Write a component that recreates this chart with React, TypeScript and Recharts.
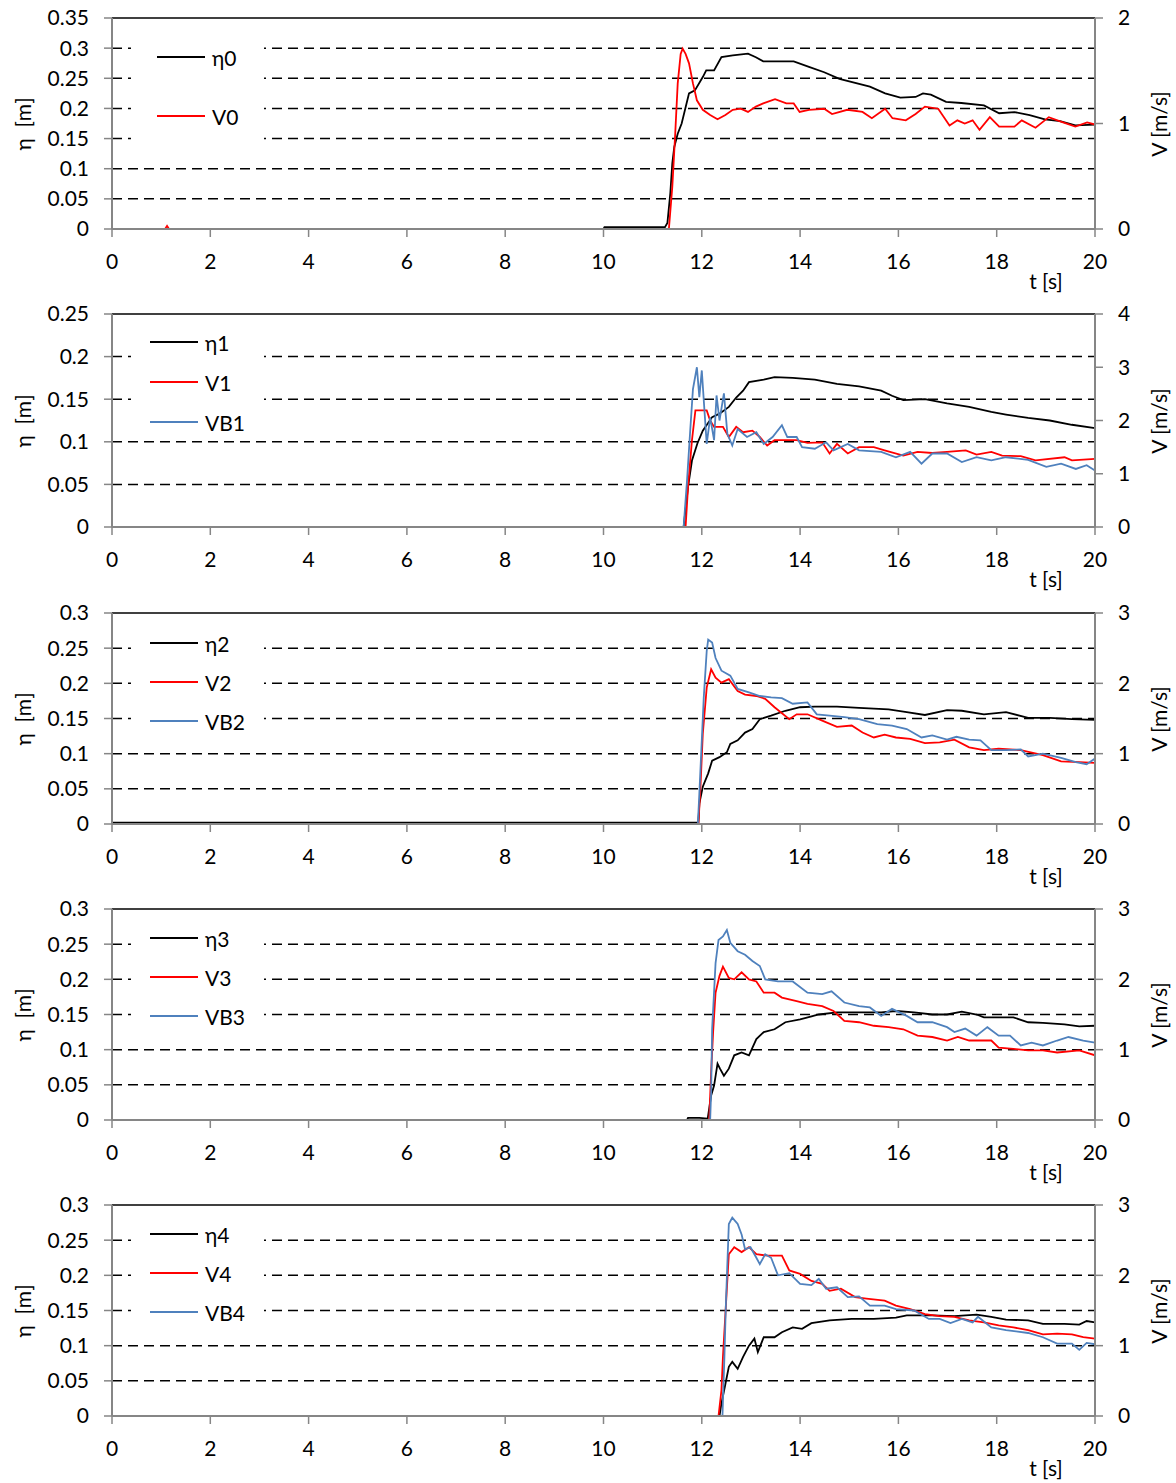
import React from 'react';
import { LineChart, Line, XAxis, YAxis, CartesianGrid, ReferenceLine, Legend } from 'recharts';

// ---------- data ----------
const T_TICKS = [0, 2, 4, 6, 8, 10, 12, 14, 16, 18, 20];
const ETA_TICKS_035 = [0, 0.05, 0.1, 0.15, 0.2, 0.25, 0.3, 0.35];
const ETA_TICKS_025 = [0, 0.05, 0.1, 0.15, 0.2, 0.25];
const ETA_TICKS_03 = [0, 0.05, 0.1, 0.15, 0.2, 0.25, 0.3];
const V_TICKS_2 = [0, 1, 2];
const V_TICKS_4 = [0, 1, 2, 3, 4];
const V_TICKS_3 = [0, 1, 2, 3];

const NAMES_0 = ['η0', 'V0'];
const NAMES_1 = ['η1', 'V1', 'VB1'];
const NAMES_2 = ['η2', 'V2', 'VB2'];
const NAMES_3 = ['η3', 'V3', 'VB3'];
const NAMES_4 = ['η4', 'V4', 'VB4'];

// [t (s), value]
const ETA0: [number, number][] = [[0,0],[10,0],[10.02,0.003],[11.25,0.003],[11.3,0.01],[11.36,0.06],[11.40,0.109],[11.44,0.136],[11.51,0.158],[11.59,0.175],[11.74,0.225],[11.86,0.230],[12.02,0.252],[12.09,0.263],[12.25,0.263],[12.40,0.285],[12.63,0.288],[12.94,0.291],[13.10,0.285],[13.25,0.278],[13.87,0.278],[14.18,0.269],[14.49,0.260],[14.80,0.249],[15.42,0.236],[15.73,0.225],[16.04,0.218],[16.35,0.219],[16.50,0.225],[16.66,0.223],[16.97,0.211],[17.28,0.209],[17.74,0.205],[18.05,0.192],[18.36,0.194],[18.67,0.189],[18.98,0.182],[19.29,0.179],[19.60,0.172],[20,0.173]];
const V0: [number, number][] = [[0,0],[1.08,0],[1.12,0.03],[1.16,0],[11.33,0],[11.40,0.40],[11.46,0.91],[11.51,1.38],[11.57,1.66],[11.61,1.71],[11.67,1.66],[11.74,1.57],[11.82,1.38],[11.90,1.22],[12.02,1.13],[12.17,1.08],[12.32,1.04],[12.48,1.08],[12.63,1.13],[12.79,1.14],[12.94,1.11],[13.10,1.16],[13.25,1.19],[13.49,1.23],[13.72,1.19],[13.87,1.19],[13.99,1.11],[14.18,1.13],[14.49,1.14],[14.65,1.09],[14.96,1.13],[15.27,1.11],[15.46,1.05],[15.73,1.14],[15.88,1.05],[16.15,1.03],[16.35,1.09],[16.54,1.16],[16.81,1.14],[17.04,0.98],[17.20,1.03],[17.35,1.00],[17.51,1.03],[17.65,0.94],[17.86,1.06],[18.05,0.97],[18.36,0.97],[18.51,1.03],[18.79,0.96],[19.06,1.06],[19.29,1.02],[19.60,0.97],[19.84,1.01],[20,0.99]];

const ETA1: [number, number][] = [[0,0],[11.63,0],[11.72,0.047],[11.80,0.078],[11.91,0.098],[12.02,0.113],[12.21,0.129],[12.36,0.133],[12.55,0.141],[12.70,0.152],[12.84,0.160],[12.96,0.170],[13.26,0.173],[13.48,0.176],[13.85,0.175],[14.30,0.173],[14.75,0.168],[15.20,0.165],[15.65,0.160],[15.87,0.154],[16.10,0.149],[16.54,0.150],[16.99,0.145],[17.44,0.141],[17.89,0.135],[18.19,0.132],[18.64,0.128],[19.08,0.125],[19.53,0.120],[20,0.116]];
const V1: [number, number][] = [[0,0],[11.67,0],[11.72,0.75],[11.80,1.63],[11.87,2.19],[12.10,2.19],[12.17,2.0],[12.25,1.88],[12.43,1.88],[12.55,1.69],[12.70,1.88],[12.84,1.78],[13.03,1.81],[13.18,1.69],[13.33,1.53],[13.48,1.63],[13.93,1.63],[14.15,1.58],[14.45,1.59],[14.60,1.38],[14.75,1.56],[14.97,1.38],[15.20,1.50],[15.50,1.50],[15.72,1.44],[16.10,1.34],[16.39,1.41],[16.69,1.39],[16.99,1.41],[17.37,1.44],[17.59,1.36],[17.89,1.41],[18.11,1.34],[18.49,1.33],[18.79,1.25],[19.38,1.31],[19.53,1.25],[20,1.28]];
const VB1: [number, number][] = [[0,0],[11.63,0],[11.70,0.88],[11.76,1.75],[11.82,2.59],[11.90,3.0],[11.95,2.44],[12.0,2.94],[12.04,2.38],[12.10,1.56],[12.17,2.06],[12.25,1.63],[12.30,2.47],[12.36,2.0],[12.45,2.51],[12.52,1.75],[12.62,1.53],[12.73,1.84],[12.92,1.69],[13.11,1.78],[13.26,1.56],[13.44,1.69],[13.63,1.91],[13.74,1.69],[13.93,1.69],[14.04,1.5],[14.30,1.47],[14.53,1.59],[14.68,1.44],[14.97,1.56],[15.20,1.44],[15.65,1.41],[15.95,1.31],[16.24,1.41],[16.47,1.19],[16.69,1.38],[16.99,1.38],[17.29,1.22],[17.59,1.31],[17.89,1.25],[18.19,1.31],[18.64,1.26],[19.01,1.13],[19.31,1.19],[19.61,1.09],[19.83,1.16],[20,1.06]];

const ETA2: [number, number][] = [[0,0.002],[11.93,0.002],[11.95,0.029],[12.02,0.053],[12.13,0.072],[12.21,0.090],[12.36,0.095],[12.51,0.102],[12.58,0.114],[12.73,0.119],[12.88,0.130],[13.03,0.135],[13.18,0.149],[13.41,0.154],[13.70,0.161],[14.0,0.166],[14.30,0.167],[14.75,0.167],[15.20,0.165],[15.80,0.163],[16.17,0.159],[16.54,0.155],[16.99,0.162],[17.29,0.161],[17.74,0.156],[18.19,0.159],[18.64,0.151],[19.08,0.151],[19.53,0.149],[20,0.148]];
const V2: [number, number][] = [[0,0],[11.93,0],[11.97,0.48],[12.02,1.28],[12.10,1.94],[12.19,2.20],[12.28,2.08],[12.40,2.01],[12.55,2.06],[12.73,1.89],[12.88,1.84],[13.11,1.82],[13.29,1.78],[13.48,1.66],[13.78,1.49],[13.93,1.56],[14.15,1.56],[14.45,1.47],[14.75,1.38],[15.05,1.40],[15.27,1.30],[15.50,1.23],[15.72,1.27],[15.95,1.23],[16.24,1.21],[16.54,1.15],[16.84,1.16],[17.14,1.20],[17.44,1.09],[17.74,1.05],[18.04,1.07],[18.49,1.05],[18.94,0.98],[19.31,0.89],[19.68,0.88],[20,0.87]];
const VB2: [number, number][] = [[0,0],[11.92,0],[11.95,0.43],[12.0,1.19],[12.04,1.80],[12.10,2.46],[12.13,2.62],[12.21,2.58],[12.28,2.36],[12.40,2.18],[12.58,2.11],[12.73,1.92],[12.96,1.87],[13.18,1.82],[13.41,1.80],[13.63,1.79],[13.85,1.71],[14.15,1.73],[14.34,1.56],[14.60,1.54],[14.90,1.52],[15.20,1.49],[15.57,1.42],[15.87,1.40],[16.17,1.35],[16.47,1.23],[16.69,1.26],[16.99,1.20],[17.18,1.24],[17.44,1.20],[17.67,1.19],[17.89,1.05],[18.19,1.05],[18.49,1.06],[18.64,0.96],[18.94,1.00],[19.31,0.94],[19.61,0.88],[19.83,0.85],[20,0.93]];

const ETA3: [number, number][] = [[0,0],[11.70,0],[11.72,0.003],[11.95,0.003],[12.12,0.002],[12.19,0.035],[12.25,0.049],[12.32,0.080],[12.37,0.073],[12.45,0.063],[12.55,0.073],[12.66,0.092],[12.81,0.096],[12.96,0.092],[13.11,0.115],[13.26,0.125],[13.48,0.129],[13.70,0.139],[14.0,0.143],[14.38,0.150],[14.75,0.153],[15.20,0.153],[15.65,0.153],[15.95,0.155],[16.32,0.153],[16.69,0.150],[16.99,0.150],[17.29,0.154],[17.59,0.150],[17.74,0.146],[18.34,0.146],[18.64,0.139],[18.94,0.138],[19.38,0.136],[19.68,0.133],[20,0.134]];
const V3: [number, number][] = [[0,0],[12.15,0],[12.19,0.68],[12.23,1.25],[12.28,1.81],[12.36,2.05],[12.43,2.18],[12.55,2.02],[12.66,2.0],[12.81,2.10],[12.96,2.0],[13.11,1.97],[13.26,1.81],[13.48,1.81],[13.63,1.74],[13.93,1.69],[14.15,1.65],[14.45,1.62],[14.68,1.55],[14.90,1.41],[15.20,1.39],[15.50,1.34],[15.80,1.32],[16.10,1.29],[16.39,1.20],[16.69,1.18],[16.99,1.13],[17.21,1.18],[17.44,1.13],[17.89,1.13],[18.04,1.03],[18.34,1.01],[18.64,0.99],[18.94,0.99],[19.23,0.96],[19.68,0.99],[20,0.92]];
const VB3: [number, number][] = [[0,0],[12.17,0],[12.19,0.4],[12.21,1.29],[12.28,2.23],[12.34,2.56],[12.43,2.61],[12.51,2.70],[12.58,2.52],[12.73,2.40],[12.88,2.35],[13.03,2.26],[13.18,2.19],[13.29,2.0],[13.55,1.97],[13.85,1.97],[14.15,1.81],[14.45,1.79],[14.64,1.83],[14.90,1.67],[15.20,1.62],[15.42,1.60],[15.65,1.48],[15.87,1.58],[16.17,1.48],[16.39,1.39],[16.69,1.39],[16.99,1.32],[17.14,1.25],[17.36,1.30],[17.59,1.20],[17.81,1.32],[18.04,1.20],[18.27,1.20],[18.49,1.06],[18.71,1.10],[18.94,1.06],[19.23,1.13],[19.46,1.18],[19.76,1.13],[20,1.10]];

const ETA4: [number, number][] = [[0,0],[12.36,0],[12.40,0.018],[12.47,0.042],[12.55,0.070],[12.62,0.077],[12.73,0.067],[12.84,0.084],[12.96,0.100],[13.07,0.110],[13.14,0.091],[13.26,0.112],[13.48,0.112],[13.63,0.119],[13.85,0.126],[14.04,0.124],[14.23,0.132],[14.60,0.136],[15.05,0.138],[15.50,0.138],[15.95,0.140],[16.17,0.143],[16.69,0.143],[17.14,0.142],[17.59,0.144],[17.89,0.141],[18.19,0.137],[18.64,0.136],[18.94,0.131],[19.38,0.131],[19.68,0.130],[19.83,0.135],[20,0.133]];
const V4: [number, number][] = [[0,0],[12.34,0],[12.40,0.37],[12.43,0.84],[12.49,1.57],[12.55,2.30],[12.66,2.40],[12.81,2.33],[12.96,2.40],[13.11,2.30],[13.33,2.28],[13.63,2.28],[13.78,2.07],[14.0,2.02],[14.23,1.92],[14.45,1.88],[14.60,1.78],[14.83,1.81],[15.12,1.69],[15.35,1.67],[15.72,1.64],[15.95,1.57],[16.24,1.52],[16.54,1.45],[16.84,1.42],[17.14,1.41],[17.44,1.36],[17.74,1.33],[18.04,1.29],[18.34,1.26],[18.64,1.22],[18.94,1.16],[19.23,1.17],[19.53,1.16],[19.76,1.12],[20,1.10]];
const VB4: [number, number][] = [[0,0],[12.42,0],[12.46,0.84],[12.49,1.59],[12.55,2.73],[12.62,2.82],[12.73,2.73],[12.81,2.58],[12.88,2.37],[12.99,2.40],[13.11,2.25],[13.18,2.16],[13.29,2.30],[13.41,2.25],[13.55,2.0],[13.78,2.03],[14.0,1.88],[14.23,1.86],[14.38,1.95],[14.53,1.81],[14.75,1.83],[14.97,1.69],[15.20,1.70],[15.42,1.57],[15.72,1.57],[15.95,1.52],[16.32,1.50],[16.62,1.38],[16.84,1.38],[17.06,1.32],[17.29,1.38],[17.51,1.33],[17.62,1.41],[17.89,1.26],[18.19,1.22],[18.64,1.18],[18.94,1.12],[19.23,1.03],[19.53,1.03],[19.68,0.94],[19.83,1.04],[20,1.02]];

// ---------- styling / layout ----------
const FONT = "Lato, 'Open Sans', 'DejaVu Sans', sans-serif";
const FS = 21;
const W = 1176;
const M_TOP = 18;
const X_AXIS_H = 62;
const AXIS_GRAY = '#868686';
const COLORS = ['#000000', '#FF0000', '#4F81BD'];

const toRows = (pairs: [number, number][]) => pairs.map(([t, v]) => ({ t, v }));

type PanelCfg = {
  plotTop: number;
  plotH: number;
  etaTicks: number[];
  vTicks: number[];
  names: string[];
  series: [number, number][][];
  legendTop: number;
  legendH: number;
  itemLeft: number;
  itemFirst: number;
  itemGap: number;
};

const PANELS: PanelCfg[] = [
  { plotTop: 18, plotH: 211, etaTicks: ETA_TICKS_035, vTicks: V_TICKS_2, names: NAMES_0, series: [ETA0, V0], legendTop: 33, legendH: 116, itemLeft: 26, itemFirst: 24, itemGap: 59 },
  { plotTop: 314, plotH: 213, etaTicks: ETA_TICKS_025, vTicks: V_TICKS_4, names: NAMES_1, series: [ETA1, V1, VB1], legendTop: 325, legendH: 110, itemLeft: 19, itemFirst: 17, itemGap: 40 },
  { plotTop: 613, plotH: 211, etaTicks: ETA_TICKS_03, vTicks: V_TICKS_3, names: NAMES_2, series: [ETA2, V2, VB2], legendTop: 625, legendH: 110, itemLeft: 19, itemFirst: 18, itemGap: 39 },
  { plotTop: 909, plotH: 211, etaTicks: ETA_TICKS_03, vTicks: V_TICKS_3, names: NAMES_3, series: [ETA3, V3, VB3], legendTop: 921, legendH: 110, itemLeft: 19, itemFirst: 17, itemGap: 39 },
  { plotTop: 1205, plotH: 211, etaTicks: ETA_TICKS_03, vTicks: V_TICKS_3, names: NAMES_4, series: [ETA4, V4, VB4], legendTop: 1217, legendH: 110, itemLeft: 19, itemFirst: 17, itemGap: 39 },
];

const tickStyle = { fill: '#000', fontSize: FS, fontFamily: FONT };

function LegendBox({ cfg }: { cfg: PanelCfg }) {
  return (
    <div style={{ position: 'relative', width: 133, height: cfg.legendH, background: '#fff', fontFamily: FONT, fontSize: FS, color: '#000' }}>
      {cfg.names.map((n, i) => (
        <div key={n} style={{ position: 'absolute', left: cfg.itemLeft, top: cfg.itemFirst + i * cfg.itemGap - 13, height: 26, display: 'flex', alignItems: 'center', whiteSpace: 'nowrap' }}>
          <span style={{ display: 'inline-block', width: 48, height: 2, background: COLORS[i], marginRight: 7 }} />
          <span>{n}</span>
        </div>
      ))}
    </div>
  );
}

function Panel({ cfg }: { cfg: PanelCfg }) {
  const H = M_TOP + cfg.plotH + X_AXIS_H;
  const top = cfg.plotTop - M_TOP;
  const etaMax = cfg.etaTicks[cfg.etaTicks.length - 1];
  const vMax = cfg.vTicks[cfg.vTicks.length - 1];
  const midY = M_TOP + cfg.plotH / 2;
  return (
    <div style={{ position: 'absolute', left: 0, top, width: W, height: H }}>
      <LineChart width={W} height={H} margin={{ top: M_TOP, right: 21, left: 52, bottom: 0 }}>
        <CartesianGrid
          yAxisId="left"
          vertical={false}
          horizontalValues={cfg.etaTicks.slice(1, -1)}
          stroke="#000"
          strokeWidth={1.5}
          strokeDasharray="10 6"
        />
        <XAxis
          dataKey="t"
          type="number"
          domain={[0, 20]}
          ticks={T_TICKS}
          interval={0}
          height={X_AXIS_H}
          allowDataOverflow
          stroke={AXIS_GRAY}
          axisLine={{ stroke: AXIS_GRAY, strokeWidth: 2 }}
          tickLine={{ stroke: AXIS_GRAY, strokeWidth: 1.5 }}
          tickSize={8}
          tickMargin={17}
          tick={tickStyle}
        />
        <YAxis
          yAxisId="left"
          type="number"
          domain={[0, etaMax]}
          ticks={cfg.etaTicks}
          interval={0}
          width={60}
          allowDataOverflow
          axisLine={{ stroke: AXIS_GRAY, strokeWidth: 2 }}
          tickLine={{ stroke: AXIS_GRAY, strokeWidth: 1.5 }}
          tickSize={8}
          tickMargin={15}
          tick={tickStyle}
          tickFormatter={(v: number) => String(v)}
        />
        <YAxis
          yAxisId="right"
          orientation="right"
          type="number"
          domain={[0, vMax]}
          ticks={cfg.vTicks}
          interval={0}
          width={60}
          allowDataOverflow
          axisLine={{ stroke: AXIS_GRAY, strokeWidth: 2 }}
          tickLine={{ stroke: AXIS_GRAY, strokeWidth: 1.5 }}
          tickSize={8}
          tickMargin={15}
          tick={tickStyle}
          tickFormatter={(v: number) => String(v)}
        />
        <ReferenceLine yAxisId="left" y={etaMax} stroke="#000" strokeWidth={1.6} />
        {cfg.series.map((s, i) => (
          <Line
            key={cfg.names[i]}
            name={cfg.names[i]}
            data={toRows(s)}
            dataKey="v"
            yAxisId={i === 0 ? 'left' : 'right'}
            type="linear"
            stroke={COLORS[i]}
            strokeWidth={1.8}
            dot={false}
            activeDot={false}
            isAnimationActive={false}
          />
        ))}
        <Legend
          layout="vertical"
          align="center"
          verticalAlign="middle"
          wrapperStyle={{ left: 131, top: cfg.legendTop - top, width: 133, height: cfg.legendH }}
          content={() => <LegendBox cfg={cfg} />}
        />
      </LineChart>
      <div style={{ position: 'absolute', left: 22, top: midY, transform: 'translate(-50%, -50%) rotate(-90deg)', whiteSpace: 'pre', fontFamily: FONT, fontSize: FS, color: '#000' }}>η  [m]</div>
      <div style={{ position: 'absolute', left: 1158, top: midY, transform: 'translate(-50%, -50%) rotate(-90deg)', whiteSpace: 'pre', fontFamily: FONT, fontSize: FS, color: '#000' }}>V [m/s]</div>
      <div style={{ position: 'absolute', left: 1046, top: M_TOP + cfg.plotH + 51, transform: 'translate(-50%, -50%)', whiteSpace: 'pre', fontFamily: FONT, fontSize: FS, color: '#000' }}>t [s]</div>
    </div>
  );
}

export default function App() {
  return (
    <div style={{ position: 'absolute', left: 0, top: 0, width: W, height: 1483, background: '#fff', fontFamily: FONT }}>
      {PANELS.map((p, i) => (
        <Panel key={i} cfg={p} />
      ))}
    </div>
  );
}
